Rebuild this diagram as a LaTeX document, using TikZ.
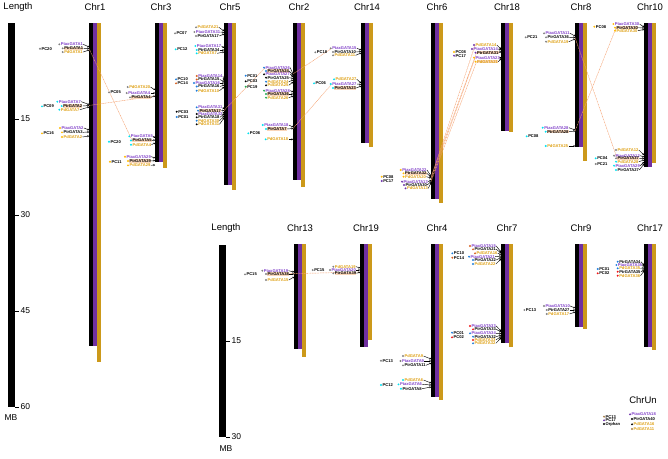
\documentclass[tikz,border=0pt]{standalone}
\usepackage{fontspec}
\setmainfont{Liberation Sans}
\usetikzlibrary{arrows.meta}
\pgfdeclarelayer{bg}
\pgfdeclarelayer{mid}
\pgfsetlayers{bg,mid,main}
\definecolor{chrpurple}{RGB}{112,48,160}
\definecolor{chrgold}{RGB}{204,153,26}
\definecolor{txpurple}{RGB}{128,64,200}
\definecolor{txgold}{RGB}{222,160,20}
\definecolor{hlpeach}{RGB}{250,214,186}
\definecolor{synteny}{RGB}{244,160,110}
\definecolor{dgray}{RGB}{128,128,128}
\definecolor{dcyan}{RGB}{0,225,240}
\definecolor{dorange}{RGB}{255,185,0}
\definecolor{dblue}{RGB}{30,125,220}
\definecolor{dbrown}{RGB}{215,95,30}
\definecolor{dgreen}{RGB}{30,170,80}
\definecolor{dred}{RGB}{240,20,20}
\definecolor{dpurple}{RGB}{110,50,170}
\definecolor{dtan}{RGB}{165,125,70}
\tikzset{
 chrlabel/.style={font=\fontsize{9.5}{10}\selectfont, inner sep=0},
 ticklabel/.style={font=\fontsize{8.5}{9}\selectfont, anchor=west, inner sep=0},
 gl/.style={anchor=west, inner sep=0.25pt, font=\fontsize{4.1}{4.3}\selectfont\bfseries},
 ptax/.style={text=txpurple},
 ptr/.style={text=black},
 ptrh/.style={text=black, fill=hlpeach},
 pd/.style={text=txgold},
 pdh/.style={text=txgold, fill=hlpeach},
 pclab/.style={anchor=west, inner sep=0.25pt, font=\fontsize{4.1}{4.3}\selectfont\bfseries, text=black},
 ga/.style={line width=0.45pt, -{Stealth[length=1.6pt,width=2pt]}},
 syn/.style={draw=synteny, line width=0.45pt, dash pattern=on 1pt off 0.6pt},
}
% gene: name, dot x, y, dot colour, style, text, target x, target y
\newcommand{\gn}[8]{%
 \coordinate (#1t) at (#7,#8);
 \fill[#4] (#2,#3) circle (1.05pt);
 \node[gl,#5] (#1) at (#2+1.1,#3) {#6};
 \draw[ga] (#1.east) -- (#1t);
}
% plain gene (no arrow)
\newcommand{\gp}[6]{%
 \fill[#4] (#2,#3) circle (1.05pt);
 \node[gl,#5] (#1) at (#2+1.1,#3) {#6};
}
% PC label: name, x, y, colour, text
\newcommand{\pcg}[5]{%
 \fill[#4] (#2,#3) circle (1.05pt);
 \node[pclab] (#1) at (#2+1.1,#3) {#5};
}
% chromosome: name, x, top, bottom, gold bottom, label y
\newcommand{\chrm}[6]{%
 \fill[black] (#2,#3) rectangle (#2+4,#4);
 \fill[chrpurple] (#2+4,#3) rectangle (#2+8,#4);
 \fill[chrgold] (#2+8,#3) rectangle (#2+12,#5);
 \node[chrlabel] (#1) at (#2+6,#6) {#1};
}
\begin{document}
\begin{tikzpicture}[x=1pt,y=-1pt]
\useasboundingbox (0,0) rectangle (668,458);
\begin{pgfonlayer}{bg}
 % length scales
 \node[chrlabel] (lenA) at (18,7) {Length};
 \fill[black] (8,23) rectangle (15,407);
 \foreach \v/\yy in {15/119,30/215,45/311,60/407}{
  \draw[line width=0.5pt] (15,\yy) -- (19,\yy);
  \node[ticklabel] at (20.5,\yy) {\v};
 }
 \node[ticklabel,anchor=center] (mbA) at (11,418) {MB};
 \node[chrlabel] (lenB) at (226,228) {Length};
 \fill[black] (219,245) rectangle (226,437);
 \foreach \v/\yy in {15/341,30/437}{
  \draw[line width=0.5pt] (226,\yy) -- (230,\yy);
  \node[ticklabel] at (231.5,\yy) {\v};
 }
 \node[ticklabel,anchor=center] (mbB) at (226,449) {MB};
 % chromosomes top row
 \chrm{Chr1}{89}{22.7}{346}{362}{7}
 \chrm{Chr3}{155}{22.7}{162}{168}{7}
 \chrm{Chr5}{224}{22.7}{185}{190}{7}
 \chrm{Chr2}{293}{22.7}{180}{187}{7}
 \chrm{Chr14}{361}{22.7}{143}{147}{7}
 \chrm{Chr6}{431}{22.7}{199}{203}{7}
 \chrm{Chr18}{501}{22.7}{131}{132}{7}
 \chrm{Chr8}{575}{22.7}{147}{161}{7}
 \chrm{Chr10}{644}{22.7}{167}{163}{7}
 % bottom row
 \chrm{Chr13}{294}{244}{349}{357}{228}
 \chrm{Chr19}{360}{244}{347}{340}{228}
 \chrm{Chr4}{431}{244}{397}{400}{228}
 \chrm{Chr7}{501}{244}{343}{347}{228}
 \chrm{Chr9}{575}{244}{327}{329}{228}
 \chrm{Chr17}{644}{244}{347}{350}{228}
\end{pgfonlayer}

% ---------- Chr1
\pcg{pcA1}{40}{48.7}{dgray}{PC20}
\gn{a1}{59.3}{44.3}{dgray}{ptax}{PtaxGATA1}{89}{47}
\gn{a2}{62.7}{48.3}{dgray}{ptrh}{PtrGATA1}{89}{48.5}
\gn{a3}{62.7}{52}{dgray}{pd}{PdGATA1}{89}{50}
\pcg{pcA2}{42}{106.3}{dcyan}{PC09}
\gn{b1}{57.3}{101.7}{dcyan}{ptax}{PtaxGATA7}{89}{104.5}
\gn{b2}{61.7}{106}{dcyan}{ptrh}{PtrGATA2}{89}{105.5}
\gn{b3}{59.3}{109.7}{dcyan}{pd}{PdGATA7}{89}{107}
\pcg{pcA3}{42}{133.3}{dorange}{PC16}
\gn{c1}{60}{128}{dorange}{ptax}{PtaxGATA2}{89}{130}
\gn{c2}{62}{132.3}{dorange}{ptr}{PtrGATA3}{89}{132}
\gn{c3}{62}{137}{dorange}{pd}{PdGATA2}{89}{136}
% ---------- Chr3
\pcg{pcB1}{109}{92.3}{dgray}{PC05}
\gn{d1}{127.7}{87}{dgray}{pd}{PdGATA20}{155}{90}
\gn{d2}{126.7}{93}{dgray}{ptax}{PtaxGATA4}{155}{93}
\gn{d3}{130}{97.3}{dgray}{ptrh}{PtrGATA4}{155}{96}
\pcg{pcB2}{109}{141.7}{dcyan}{PC20}
\gn{e1}{129.3}{136.3}{dcyan}{ptax}{PtaxGATA5}{155}{138}
\gn{e2}{131}{140.5}{dcyan}{ptrh}{PtrGATA5}{155}{140}
\gn{e3}{131}{144.7}{dcyan}{pd}{PdGATA4}{155}{143}
\pcg{pcB3}{110}{161.7}{dorange}{PC11}
\gn{f1}{125}{156.7}{dorange}{ptax}{PtaxGATA29}{155}{158}
\gn{f2}{128}{161}{dorange}{ptrh}{PtrGATA29}{155}{160.5}
\gn{f3}{128}{165.3}{dorange}{pd}{PdGATA29}{155}{165}
% ---------- Chr5
\pcg{pcC1}{175}{33.3}{dgray}{PC07}
\gn{g1}{196}{27.3}{dgray}{pd}{PdGATA21}{224}{31}
\gn{g2}{194.3}{32}{dgray}{ptax}{PtaxGATA31}{224}{32.5}
\gn{g3}{196}{36}{dgray}{ptr}{PtrGATA17}{224}{34}
\pcg{pcC2}{175.7}{49.3}{dcyan}{PC12}
\gn{h1}{195.3}{46}{dcyan}{ptax}{PtaxGATA17}{224}{48}
\gn{h2}{196.7}{50}{dcyan}{ptr}{PtrGATA34}{224}{50}
\gn{h3}{196.7}{53.3}{dcyan}{pd}{PdGATA7}{224}{52}
\pcg{pcC3}{176}{79.3}{dblue}{PC10}
\pcg{pcC4}{176}{83.3}{dbrown}{PC14}
\gn{i1}{196.7}{76}{dbrown}{ptax}{PtaxGATA14}{224}{80}
\gn{i2}{196.7}{79.5}{dbrown}{ptr}{PtrGATA15}{224}{81.5}
\gn{i3}{194}{83}{dblue}{ptax}{PtaxGATA16}{224}{83}
\gn{i4}{196.7}{86.5}{dblue}{ptr}{PtrGATA16}{224}{85}
\gn{i5}{196.7}{90.7}{dblue}{pd}{PdGATA10}{224}{87}
\pcg{pcC5}{176.7}{111.7}{black}{PC03}
\pcg{pcC6}{176.7}{117}{dblue}{PC01}
\gn{j1}{196.7}{107.3}{dblue}{ptax}{PtaxGATA31}{224}{109}
\gn{j2}{198}{110.7}{dblue}{ptrh}{PtrGATA17}{224}{110.5}
\gn{j3}{196.7}{114}{black}{ptax}{PtaxGATA32}{224}{112}
\gn{j4}{196.7}{117.3}{black}{ptr}{PtrGATA18}{224}{114}
\gn{j5}{196.7}{120.7}{dblue}{pd}{PdGATA30}{224}{116}
\gn{j6}{196.7}{124.3}{black}{pd}{PdGATA31}{224}{118}
% ---------- Chr2
\pcg{pcD1}{245.7}{75.7}{dblue}{PC01}
\pcg{pcD2}{245.7}{81.3}{black}{PC03}
\pcg{pcD3}{245.7}{86.7}{dgreen}{PC19}
\gn{k1}{264}{67.7}{dblue}{ptax}{PtaxGATA26}{293}{74}
\gn{k2}{266}{71}{dblue}{ptrh}{PtrGATA24}{293}{75.5}
\gn{k3}{264}{74.3}{black}{ptax}{PtaxGATA27}{293}{77}
\gn{k4}{266}{77.7}{black}{ptr}{PtrGATA25}{293}{78.5}
\gn{k5}{266}{81.7}{dblue}{pd}{PdGATA24}{293}{80}
\gn{k6}{266}{85.3}{black}{pd}{PdGATA25}{293}{82}
\gn{k7}{264}{90.7}{dgreen}{ptax}{PtaxGATA28}{293}{92}
\gn{k8}{266}{94}{dgreen}{ptrh}{PtrGATA26}{293}{94}
\gn{k9}{266}{97.7}{dgreen}{pd}{PdGATA26}{293}{96}
\pcg{pcD4}{248.3}{133.3}{dcyan}{PC06}
\gn{l1}{262.7}{125}{dcyan}{ptax}{PtaxGATA18}{293}{127}
\gn{l2}{266}{129}{dcyan}{ptrh}{PtrGATA7}{293}{128.5}
\gn{l3}{265.7}{139.3}{dcyan}{pd}{PdGATA18}{293}{139.3}
% ---------- Chr14
\pcg{pcE1}{315.3}{52.3}{dgray}{PC18}
\gn{m1}{330.7}{48.3}{dgray}{ptax}{PtaxGATA15}{361}{50}
\gn{m2}{333}{52}{dgray}{ptr}{PtrGATA10}{361}{51.5}
\gn{m3}{333}{55.3}{dgray}{pd}{PdGATA11}{361}{53}
\pcg{pcE2}{314}{83.3}{dcyan}{PC06}
\gn{n1}{334}{79.3}{dcyan}{pd}{PdGATA27}{361}{83}
\gn{n2}{330.7}{84}{dcyan}{ptax}{PtaxGATA27}{361}{84.5}
\gn{n3}{333}{88}{dcyan}{ptrh}{PtrGATA23}{361}{86}
% ---------- Chr6
\pcg{pcF1}{381.7}{176.7}{dorange}{PC08}
\pcg{pcF2}{381.7}{181}{dpurple}{PC17}
\gn{o1}{400.7}{170}{dorange}{ptax}{PtaxGATA22}{431}{176}
\gn{o2}{403.5}{173.3}{dorange}{ptrh}{PtrGATA32}{431}{177}
\gn{o3}{403.5}{176.7}{dorange}{pd}{PdGATA20}{431}{178}
\gn{o4}{402}{181.7}{dpurple}{ptax}{PtaxGATA13}{431}{180}
\gn{o5}{404}{185}{dpurple}{ptr}{PtrGATA30}{431}{181.5}
\gn{o6}{405.5}{188.3}{dpurple}{pd}{PdGATA13}{431}{183}
% ---------- Chr18
\pcg{pcG1}{454}{52}{dorange}{PC08}
\pcg{pcG2}{454}{55.7}{dpurple}{PC17}
\gn{p1}{474}{45}{dpurple}{pd}{PdGATA14}{501}{49}
\gn{p2}{472}{49}{dpurple}{ptax}{PtaxGATA14}{501}{50}
\gn{p3}{475.5}{52.7}{dpurple}{ptrh}{PtrGATA31}{501}{51.5}
\gn{p4}{474}{57.7}{dorange}{ptax}{PtaxGATA23}{501}{57}
\gn{p5}{475.5}{61.7}{dorange}{pdh}{PdGATA21}{501}{58.5}
% ---------- Chr8
\pcg{pcH1}{525.7}{37.3}{dgray}{PC21}
\gn{q1}{544}{33.3}{dgray}{ptax}{PtaxGATA11}{575}{36}
\gn{q2}{546}{37.3}{dgray}{ptr}{PtrGATA36}{575}{37.5}
\gn{q3}{546}{41.7}{dgray}{pd}{PdGATA19}{575}{39}
\pcg{pcH2}{526.7}{136.3}{dcyan}{PC08}
\gn{r1}{542.7}{127.7}{dcyan}{ptax}{PtaxGATA28}{575}{130}
\gn{r2}{545.7}{131.7}{dcyan}{ptrh}{PtrGATA28}{575}{131}
\gn{r3}{545.7}{146}{dcyan}{pd}{PdGATA25}{575}{146}
% ---------- Chr10
\pcg{pcI1}{594.3}{26.7}{dorange}{PC08}
\gn{s1}{613.3}{24}{dorange}{ptax}{PtaxGATA30}{644}{27}
\gn{s2}{615}{27.7}{dorange}{ptrh}{PtrGATA30}{644}{28}
\gn{s3}{615}{30.7}{dorange}{pd}{PdGATA30}{644}{29.5}
\pcg{pcI2}{595.7}{158.3}{dcyan}{PC04}
\pcg{pcI3}{595.7}{164}{dgray}{PC21}
\gn{t1}{616}{150}{dgray}{pd}{PdGATA12}{644}{155}
\gn{t2}{614}{155.7}{dgray}{ptax}{PtaxGATA12}{644}{157}
\gn{t3}{616}{158.3}{dgray}{ptrh}{PtrGATA37}{644}{158.5}
\gn{t4}{616}{161.7}{dcyan}{pd}{PdGATA28}{644}{160}
\gn{t5}{614}{165.7}{dcyan}{ptax}{PtaxGATA29}{644}{162}
\gn{t6}{616}{170}{dcyan}{ptr}{PtrGATA27}{644}{164}
% ---------- Chr13
\pcg{pcJ1}{245}{274.3}{dgray}{PC15}
\gn{u1}{262.3}{270.7}{dgray}{ptax}{PtaxGATA19}{294}{272}
\gn{u2}{266}{274}{dgray}{ptrh}{PtrGATA38}{294}{274}
\gn{u3}{266}{280}{dgray}{pd}{PdGATA15}{294}{277}
% ---------- Chr19
\pcg{pcK1}{312.7}{270}{dgray}{PC15}
\gn{v1}{333.3}{266.7}{dgray}{pd}{PdGATA19}{360}{268}
\gn{v2}{330}{270}{dgray}{ptax}{PtaxGATA20}{360}{270}
\gn{v3}{333.3}{273.3}{dgray}{ptrh}{PtrGATA39}{360}{272}
% ---------- Chr4
\pcg{pcL1}{381}{360.7}{dgray}{PC13}
\gn{w1}{403}{356}{dgray}{pd}{PdGATA9}{431}{359}
\gn{w2}{400.5}{361}{dgray}{ptax}{PtaxGATA9}{431}{361}
\gn{w3}{403}{365.3}{dgray}{ptr}{PtrGATA11}{431}{363}
\pcg{pcL2}{381}{385}{dcyan}{PC12}
\gn{x1}{403}{380}{dcyan}{pd}{PdGATA6}{431}{383}
\gn{x2}{398.5}{384.3}{dcyan}{ptax}{PtaxGATA6}{431}{385}
\gn{x3}{401}{388.7}{dcyan}{ptr}{PtrGATA8}{431}{387}
% ---------- Chr7
\pcg{pcM1}{452.3}{253.3}{dblue}{PC10}
\pcg{pcM2}{452.3}{257.7}{dbrown}{PC14}
\gn{y1}{470}{246}{dbrown}{ptax}{PtaxGATA15}{501}{252}
\gn{y2}{473}{249.3}{dbrown}{ptr}{PtrGATA21}{501}{253}
\gn{y3}{475}{253.3}{dbrown}{pd}{PdGATA16}{501}{254.5}
\gn{y4}{469}{256.7}{dblue}{ptax}{PtaxGATA21}{501}{256}
\gn{y5}{473}{260}{dblue}{ptr}{PtrGATA22}{501}{257.5}
\gn{y6}{473}{264}{dblue}{pd}{PdGATA22}{501}{259}
\pcg{pcM3}{452}{332.7}{dblue}{PC01}
\pcg{pcM4}{452}{337.3}{dred}{PC02}
\gn{z1}{470}{326}{dred}{ptax}{PtaxGATA33}{501}{331}
\gn{z2}{473}{329.3}{dred}{ptr}{PtrGATA33}{501}{332}
\gn{z3}{470}{333.3}{dblue}{ptax}{PtaxGATA34}{501}{333.5}
\gn{z4}{473}{336.7}{dblue}{ptr}{PtrGATA32}{501}{335}
\gn{z5}{473}{340}{dred}{pd}{PdGATA33}{501}{336.5}
\gn{z6}{473}{343.3}{dblue}{pd}{PdGATA32}{501}{338}
% ---------- Chr9
\pcg{pcN1}{524.3}{310}{dgray}{PC13}
\gn{aa1}{544}{306}{dgray}{ptax}{PtaxGATA10}{575}{308}
\gn{aa2}{546.7}{310}{dgray}{ptr}{PtrGATA27}{575}{310}
\gn{aa3}{546.7}{314}{dgray}{pd}{PdGATA17}{575}{312}
% ---------- Chr17
\pcg{pcO1}{597.7}{269}{dblue}{PC01}
\pcg{pcO2}{597.7}{273.3}{dred}{PC02}
\gn{bb1}{617.7}{261.7}{dblue}{ptr}{PtrGATA34}{644}{265}
\gn{bb2}{616.3}{265}{dblue}{ptax}{PtaxGATA35}{644}{266.5}
\gn{bb3}{617.7}{268.3}{dblue}{pd}{PdGATA35}{644}{268}
\gn{bb4}{617.7}{271.7}{dred}{ptr}{PtrGATA35}{644}{269.5}
\gn{bb5}{617.7}{275.7}{dred}{pd}{PdGATA36}{644}{271}
% ---------- ChrUn
\node[chrlabel] (ChrUn) at (643,400) {ChrUn};
\pcg{lg1}{604}{416.7}{dtan}{PC13}
\pcg{lg2}{604}{420.3}{dpurple}{PC17}
\pcg{lg3}{604}{424}{black}{Orphan}
\gp{un1}{630}{414.3}{dpurple}{ptax}{PtaxGATA18}
\gp{un2}{632}{419}{black}{ptr}{PtrGATA40}
\gp{un3}{632}{424.3}{black}{pd}{PdGATA16}
\gp{un4}{632}{429}{dtan}{pd}{PdGATA11}

% ---------- synteny connectors
\begin{pgfonlayer}{mid}
 \draw[syn] (a2t) -- (e2.west);
 \draw[syn] (b2t) -- (d3t);
 \draw[syn] (j2t) -- (k1.west);
 \draw[syn] (k1t) -- (m1.west);
 \draw[syn] (l2t) -- (n2.west);
 \draw[syn] (o2t) -- (p3.west);
 \draw[syn] (o3t) -- (p1.west);
 \draw[syn] (o4t) -- (p4.west);
 \draw[syn] (o5t) -- (p5.west);
 \draw[syn] (q2t) -- (t3.west);
 \draw[syn] (r2t) -- (s2.west);
 \draw[syn] (u2.center) -- (v3t);
\end{pgfonlayer}
\end{tikzpicture}
\end{document}
